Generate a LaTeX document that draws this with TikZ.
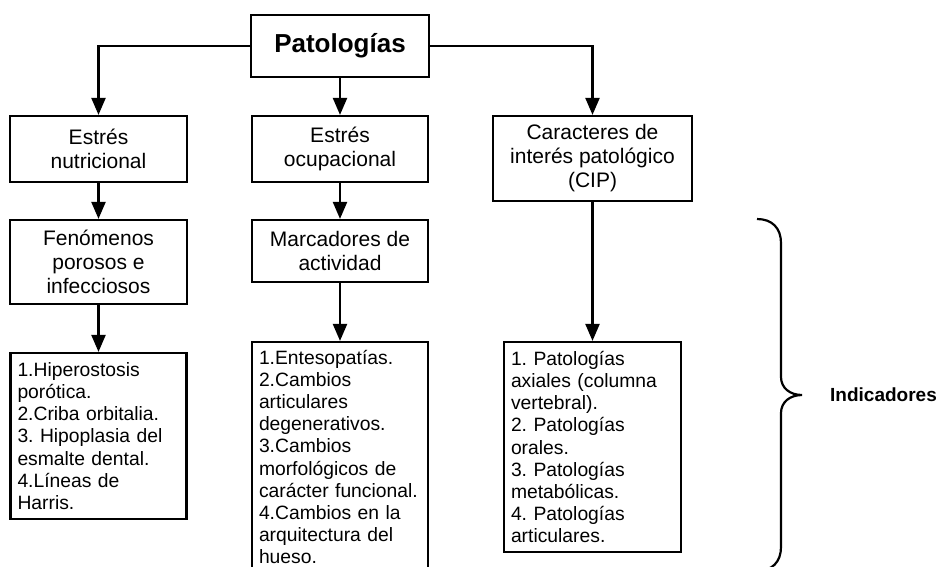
\documentclass[tikz,border=0pt]{standalone}
\usepackage{fontspec}
\setmainfont{Liberation Sans}
\frenchspacing
\usetikzlibrary{arrows.meta}
\tikzset{
  box/.style={draw, line width=2.2pt, inner sep=0pt, align=center, font=\fontsize{21}{24}\selectfont},
  lst/.style={draw, line width=2.2pt, inner xsep=7pt, inner ysep=0pt, align=left, font=\fontsize{19.3}{22.1}\selectfont},
  arr/.style={line width=2.2pt, -{Triangle[length=17pt,width=14pt]}},
  brace/.style={line width=2.2pt},
}
\begin{document}
\begin{tikzpicture}[x=1pt,y=-1pt]
\useasboundingbox (0,0) rectangle (942,566);
\clip (0,0) rectangle (942,566);
\fill[white] (0,0) rectangle (942,566);

\node[box, minimum width=178pt, minimum height=62pt, font=\fontsize{26}{30}\selectfont\bfseries] (pat) at (340,46) {Patologías};

\node[box, minimum width=177pt, minimum height=66pt] (nut) at (98.5,149) {Estrés\\nutricional};
\node[box, minimum width=176pt, minimum height=66pt] (ocu) at (340,149) {Estrés\\ocupacional};
\node[box, minimum width=199pt, minimum height=85pt] (cip) at (592.5,158.5) {Caracteres de\\interés patológico\\(CIP)};

\node[box, minimum width=177pt, minimum height=84pt] (fen) at (98.5,262) {Fenómenos\\porosos e\\infecciosos};
\node[box, minimum width=176pt, minimum height=62pt] (mar) at (340,251) {Marcadores de\\actividad};

\node[lst, text width=162pt, minimum height=166pt] (l1) at (98.5,436) {1.Hiperostosis\\porótica.\\2.Criba orbitalia.\\3. Hipoplasia del\\esmalte dental.\\4.Líneas de\\Harris.};
\node[lst, text width=162pt, minimum height=230pt] (l2) at (340,457) {1.Entesopatías.\\2.Cambios\\articulares\\degenerativos.\\3.Cambios\\morfológicos de\\carácter funcional.\\4.Cambios en la\\arquitectura del\\hueso.};
\node[lst, text width=163pt, minimum height=210pt] (l3) at (592.5,447) {1. Patologías\\axiales (columna\\vertebral).\\2. Patologías\\orales.\\3. Patologías\\metabólicas.\\4. Patologías\\articulares.};

\draw[arr] (pat.west) -| (nut.north);
\draw[arr] (pat.south) -- (ocu.north);
\draw[arr] (pat.east) -| (cip.north);
\draw[arr] (nut.south) -- (fen.north);
\draw[arr] (ocu.south) -- (mar.north);
\draw[arr] (fen.south) -- (l1.north);
\draw[arr] (mar.south) -- (l2.north);
\draw[arr] (cip.south) -- (l3.north);

\draw[brace] (757,219) .. controls (772,219) and (781,228) .. (781,243)
  -- (781,377) .. controls (781,388) and (790,395) .. (802,395)
  .. controls (790,395) and (781,402) .. (781,413)
  -- (781,547) .. controls (781,562) and (772,571) .. (757,571);

\node[anchor=west, inner sep=0pt, font=\fontsize{19}{22}\selectfont\bfseries] (ind) at (830,395) {Indicadores};
\end{tikzpicture}
\end{document}
